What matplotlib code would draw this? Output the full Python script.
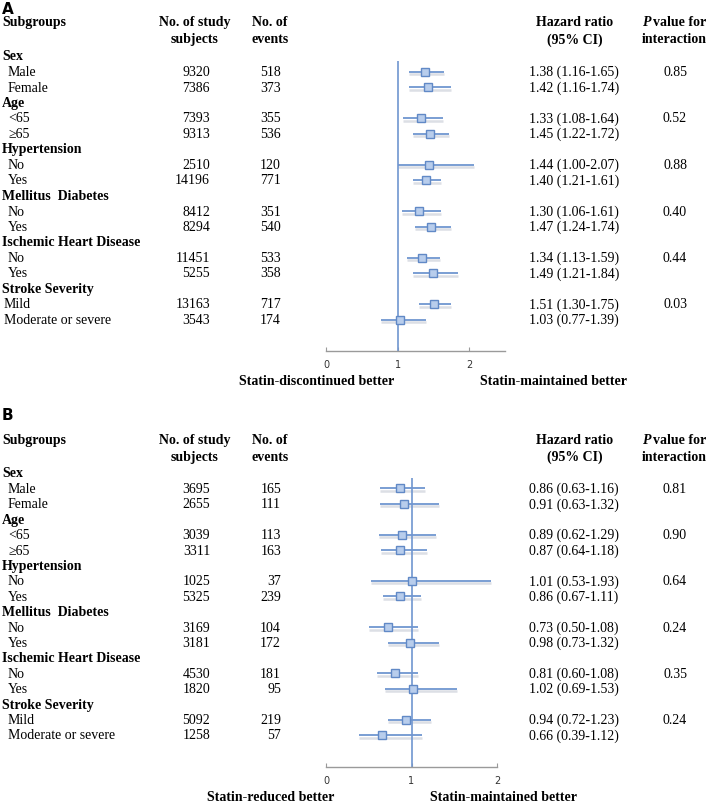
import matplotlib
matplotlib.use('Agg')
import matplotlib.pyplot as plt
import matplotlib.transforms as mtransforms

plt.rcParams['font.family'] = ['Liberation Serif', 'DejaVu Serif']

W, H = 709, 804

# row labels (shared by both panels); headers have no values
row_labels = ['Sex', 'Male', 'Female',
              'Age', '<65', '\u226565',
              'Hypertension', 'No', 'Yes',
              'Mellitus  Diabetes', 'No', 'Yes',
              'Ischemic Heart Disease', 'No', 'Yes',
              'Stroke Severity', 'Mild', 'Moderate or severe']
is_header = [True, False, False] * 6

# panel A: statin-maintained vs statin-discontinued
subjects_a = [9320, 7386, 7393, 9313, 2510, 14196, 8412, 8294, 11451, 5255, 13163, 3543]
events_a = [518, 373, 355, 536, 120, 771, 351, 540, 533, 358, 717, 174]
hr_a = [1.38, 1.42, 1.33, 1.45, 1.44, 1.40, 1.30, 1.47, 1.34, 1.49, 1.51, 1.03]
lo_a = [1.16, 1.16, 1.08, 1.22, 1.00, 1.21, 1.06, 1.24, 1.13, 1.21, 1.30, 0.77]
hi_a = [1.65, 1.74, 1.64, 1.72, 2.07, 1.61, 1.61, 1.74, 1.59, 1.84, 1.75, 1.39]
p_a = ['0.85', '0.52', '0.88', '0.40', '0.44', '0.03']

# panel B: statin-maintained vs statin-reduced
subjects_b = [3695, 2655, 3039, 3311, 1025, 5325, 3169, 3181, 4530, 1820, 5092, 1258]
events_b = [165, 111, 113, 163, 37, 239, 104, 172, 181, 95, 219, 57]
hr_b = [0.86, 0.91, 0.89, 0.87, 1.01, 0.86, 0.73, 0.98, 0.81, 1.02, 0.94, 0.66]
lo_b = [0.63, 0.63, 0.62, 0.64, 0.53, 0.67, 0.50, 0.73, 0.60, 0.69, 0.72, 0.39]
hi_b = [1.16, 1.32, 1.29, 1.18, 1.93, 1.11, 1.08, 1.32, 1.08, 1.53, 1.23, 1.12]
p_b = ['0.81', '0.90', '0.64', '0.24', '0.35', '0.24']

LINE = '#7096d0'
FACE = '#b8cdec'
EDGE = '#6189c6'
SHADOW = '#dcdfe5'
FS = 10


def panel(fig, letter, row0, step, axis_y, x_right, xmax, subjects, events, hr, lo, hi, pvals,
          left_label, left_cx, label_y, mild_indent):
    top = row0 - 0.5 * step
    ybot = (axis_y - row0) / step
    ax = fig.add_axes([326 / W, 1 - axis_y / H, (x_right - 326) / W, (axis_y - top) / H])
    ax.set_xlim(0, xmax)
    ax.set_ylim(ybot, -0.5)
    for s in ['top', 'right', 'left']:
        ax.spines[s].set_visible(False)
    ax.spines['bottom'].set_color('#9a9a9a')
    ax.spines['bottom'].set_linewidth(1.0)
    ax.set_yticks([])
    ax.set_xticks([0, 1, 2])
    ax.tick_params(axis='x', direction='in', length=3, color='#9a9a9a', pad=6,
                   labelsize=7, labelcolor='#333333')
    for lab in ax.get_xticklabels():
        lab.set_family('DejaVu Sans')
    ax.vlines(1, 0.3, ybot, color=LINE, lw=1.2, zorder=2)

    tr = mtransforms.blended_transform_factory(fig.transFigure, ax.transData)

    def txt(xpx, row, s, **kw):
        kw.setdefault('fontsize', FS)
        ax.text(xpx / W, row, s, transform=tr, va='center', clip_on=False, **kw)

    txt(2, -3.05 if letter == 'A' else -3.8, letter, family='DejaVu Sans', weight='bold', fontsize=11)
    txt(2, -2.2, 'Subgroups', weight='bold')
    txt(195, -2.2, 'No. of study', weight='bold', ha='center')
    txt(195, -1.1, 'subjects', weight='bold', ha='center')
    txt(270, -2.2, 'No. of', weight='bold', ha='center')
    txt(270, -1.1, 'events', weight='bold', ha='center')
    txt(575, -2.2, 'Hazard ratio', weight='bold', ha='center')
    txt(575, -1.1, '(95% CI)', weight='bold', ha='center')
    txt(643, -2.2, 'P', weight='bold', style='italic')
    txt(653, -2.2, 'value for', weight='bold')
    txt(674, -1.1, 'interaction', weight='bold', ha='center')

    k = 0
    for i, lab in enumerate(row_labels):
        if is_header[i]:
            txt(2, i, lab, weight='bold')
            continue
        txt(mild_indent if i >= 16 else 8, i, lab)
        txt(210, i, str(subjects[k]), ha='right')
        txt(281, i, str(events[k]), ha='right')
        txt(529, i, '%.2f (%.2f-%.2f)' % (hr[k], lo[k], hi[k]))
        if k % 2 == 0:
            txt(675, i, pvals[k // 2], ha='center')
        ax.plot([lo[k], hi[k]], [i + 0.17, i + 0.17], color=SHADOW, lw=1.8, zorder=1,
                solid_capstyle='butt')
        ax.plot([lo[k], hi[k]], [i, i], color=LINE, lw=1.3, zorder=3, solid_capstyle='butt')
        ax.plot(hr[k], i, marker='s', ms=6, mfc=FACE, mec=EDGE, mew=1.0, zorder=4)
        k += 1

    ax.text(left_cx / W, 1 - label_y / H, left_label, transform=fig.transFigure,
            ha='center', va='center', weight='bold', fontsize=FS)
    return ax


fig = plt.figure(figsize=(W / 100, H / 100), dpi=100)

panel(fig, 'A', 57, 15.5, 352, 505, 2.5, subjects_a, events_a, hr_a, lo_a, hi_a, p_a,
      'Statin-discontinued better', 317, 382, 4)
fig.text(553 / W, 1 - 382 / H, 'Statin-maintained better', ha='center', va='center',
         weight='bold', fontsize=FS)

panel(fig, 'B', 474, 15.41, 768, 497, 2.0, subjects_b, events_b, hr_b, lo_b, hi_b, p_b,
      'Statin-reduced better', 271, 798, 8)
fig.text(504 / W, 1 - 798 / H, 'Statin-maintained better', ha='center', va='center',
         weight='bold', fontsize=FS)

fig.savefig('out.png', dpi=100)
